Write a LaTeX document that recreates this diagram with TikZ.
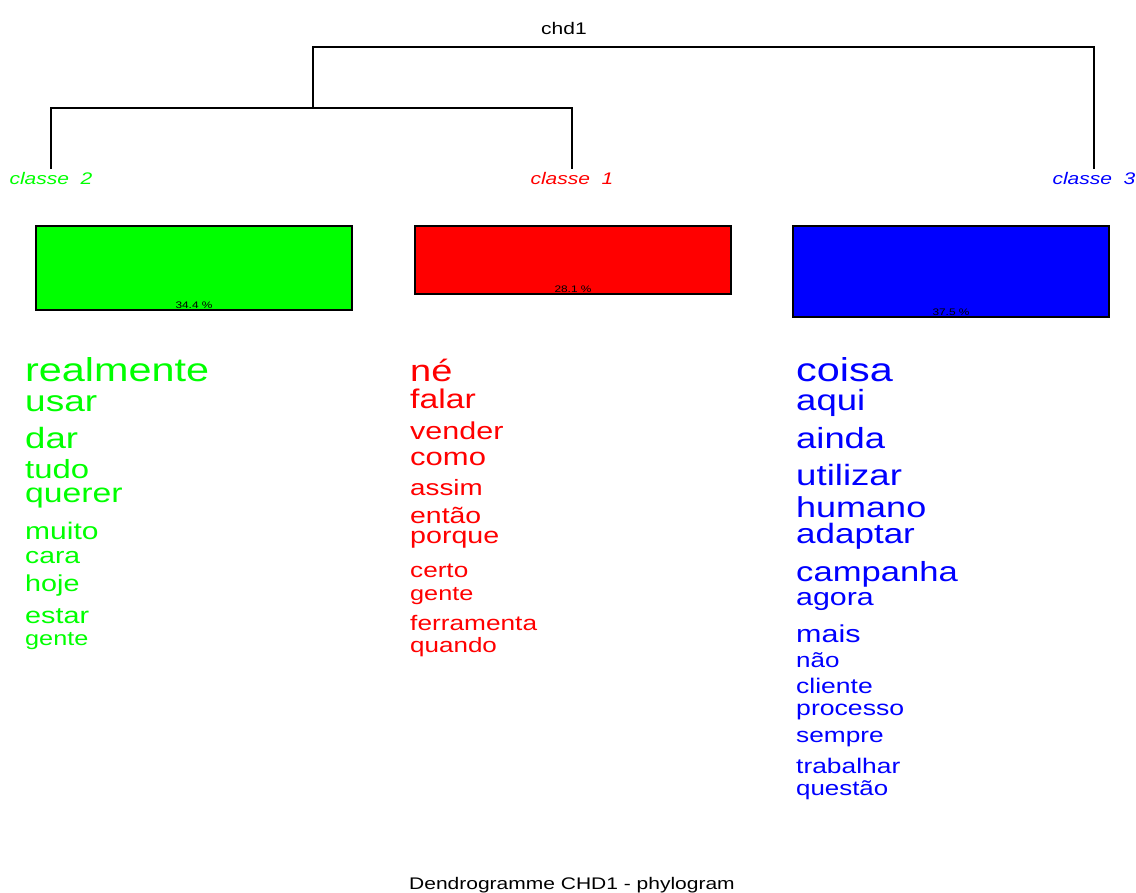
\documentclass[tikz,border=0pt]{standalone}
\usepackage{fontspec}
\setmainfont[FakeStretch=1.25]{Liberation Sans}
\definecolor{clgreen}{RGB}{0,255,0}
\definecolor{clred}{RGB}{255,0,0}
\definecolor{clblue}{RGB}{0,0,255}
\newcommand{\fsz}[1]{\fontsize{#1}{#1}\selectfont}
\tikzset{
  tree/.style={line width=1.2pt, black},
  cls/.style={anchor=base, inner sep=0pt, font=\fsz{16.8}\itshape},
  bar/.style={draw=black, line width=1.4pt, minimum width=316pt, inner sep=0pt},
  pct/.style={anchor=base, inner sep=0pt, font=\fsz{9.5}},
  wd/.style={anchor=base west, inner sep=0pt},
}

\begin{document}
\begin{tikzpicture}[x=1pt, y=-1pt]
		%%%%% START %%%%%
		\useasboundingbox (0,0) rectangle (1136,893);
		
		\node[inner sep=0pt, anchor=base, font=\fsz{16.8}] (chd) at (564,35) {chd1};
		
		% tree
		\coordinate (leaf2) at (51,169);
		\coordinate (leaf1) at (572,169);
		\coordinate (leaf3) at (1094,169);
		\coordinate (n12) at (313,108);
		\coordinate (top) at (313,47);
		\draw[tree] (leaf2) |- (n12) -| (leaf1);
		\draw[tree] (n12) -- (top) -| (leaf3);
		
		\node[cls, text=clgreen] (c2) at (51,185) {classe\ \ 2};
		\node[cls, text=clred] (c1) at (572,185) {classe\ \ 1};
		\node[cls, text=clblue] (c3) at (1094,185) {classe\ \ 3};
		
		% bars
		\node[bar, fill=clgreen, minimum height=84pt] (bar2) at (194,268) {};
		\node[bar, fill=clred, minimum height=68pt] (bar1) at (573,260) {};
		\node[bar, fill=clblue, minimum height=91pt] (bar3) at (951,271.5) {};
		\node[pct] (p2) at ([yshift=2.5pt]bar2.south) {34.4 \%};
		\node[pct] (p1) at ([yshift=2.5pt]bar1.south) {28.1 \%};
		\node[pct] (p3) at ([yshift=2.5pt]bar3.south) {37.5 \%};
		
		% classe 2
		\node[wd, text=clgreen, font=\fsz{33.1}] (realmente) at (25,382) {realmente};
		\node[wd, text=clgreen, font=\fsz{29.6}] (usar) at (25,411) {usar};
		\node[wd, text=clgreen, font=\fsz{29.3}] (dar) at (25,448) {dar};
		\node[wd, text=clgreen, font=\fsz{26.3}] (tudo) at (25,478) {tudo};
		\node[wd, text=clgreen, font=\fsz{27}] (querer) at (25,502) {querer};
		\node[wd, text=clgreen, font=\fsz{24}] (muito) at (25,539) {muito};
		\node[wd, text=clgreen, font=\fsz{22.6}] (cara) at (25,563) {cara};
		\node[wd, text=clgreen, font=\fsz{23}] (hoje) at (25,591) {hoje};
		\node[wd, text=clgreen, font=\fsz{23}] (estar) at (25,623) {estar};
		\node[wd, text=clgreen, font=\fsz{20.2}] (gente2) at (25,645) {gente};
		
		% classe 1
		\node[wd, text=clred, font=\fsz{30.4}] (ne) at (410,382) {né};
		\node[wd, text=clred, font=\fsz{27}] (falar) at (410,409) {falar};
		\node[wd, text=clred, font=\fsz{24.4}] (vender) at (410,439) {vender};
		\node[wd, text=clred, font=\fsz{24.8}] (como) at (410,465) {como};
		\node[wd, text=clred, font=\fsz{22.2}] (assim) at (410,495) {assim};
		\node[wd, text=clred, font=\fsz{22.7}] (entao) at (410,523) {então};
		\node[wd, text=clred, font=\fsz{22.9}] (porque) at (410,543) {porque};
		\node[wd, text=clred, font=\fsz{20.9}] (certo) at (410,577) {certo};
		\node[wd, text=clred, font=\fsz{20.2}] (gente1) at (410,600) {gente};
		\node[wd, text=clred, font=\fsz{21}] (ferramenta) at (410,630) {ferramenta};
		\node[wd, text=clred, font=\fsz{20.8}] (quando) at (410,652) {quando};
		
		% classe 3
		\node[wd, text=clblue, font=\fsz{33.1}] (coisa) at (796,382) {coisa};
		\node[wd, text=clblue, font=\fsz{29.2}] (aqui) at (796,410) {aqui};
		\node[wd, text=clblue, font=\fsz{29.1}] (ainda) at (796,449) {ainda};
		\node[wd, text=clblue, font=\fsz{29.3}] (utilizar) at (796,485) {utilizar};
		\node[wd, text=clblue, font=\fsz{28.8}] (humano) at (796,517) {humano};
		\node[wd, text=clblue, font=\fsz{28}] (adaptar) at (796,543) {adaptar};
		\node[wd, text=clblue, font=\fsz{27.7}] (campanha) at (796,581) {campanha};
		\node[wd, text=clblue, font=\fsz{24.3}] (agora) at (796,605) {agora};
		\node[wd, text=clblue, font=\fsz{24.4}] (mais) at (796,642) {mais};
		\node[wd, text=clblue, font=\fsz{20.8}] (nao) at (796,667) {não};
		\node[wd, text=clblue, font=\fsz{21.2}] (cliente) at (796,693) {cliente};
		\node[wd, text=clblue, font=\fsz{21.3}] (processo) at (796,715) {processo};
		\node[wd, text=clblue, font=\fsz{21}] (sempre) at (796,742) {sempre};
		\node[wd, text=clblue, font=\fsz{21.1}] (trabalhar) at (796,773) {trabalhar};
		\node[wd, text=clblue, font=\fsz{20.7}] (questao) at (796,795) {questão};
		
		\node[inner sep=0pt, anchor=base, font=\fsz{16.8}] (caption) at (572,889) {Dendrogramme CHD1 - phylogram};
		
		%%%%% END %%%%%
\end{tikzpicture}
\end{document}
